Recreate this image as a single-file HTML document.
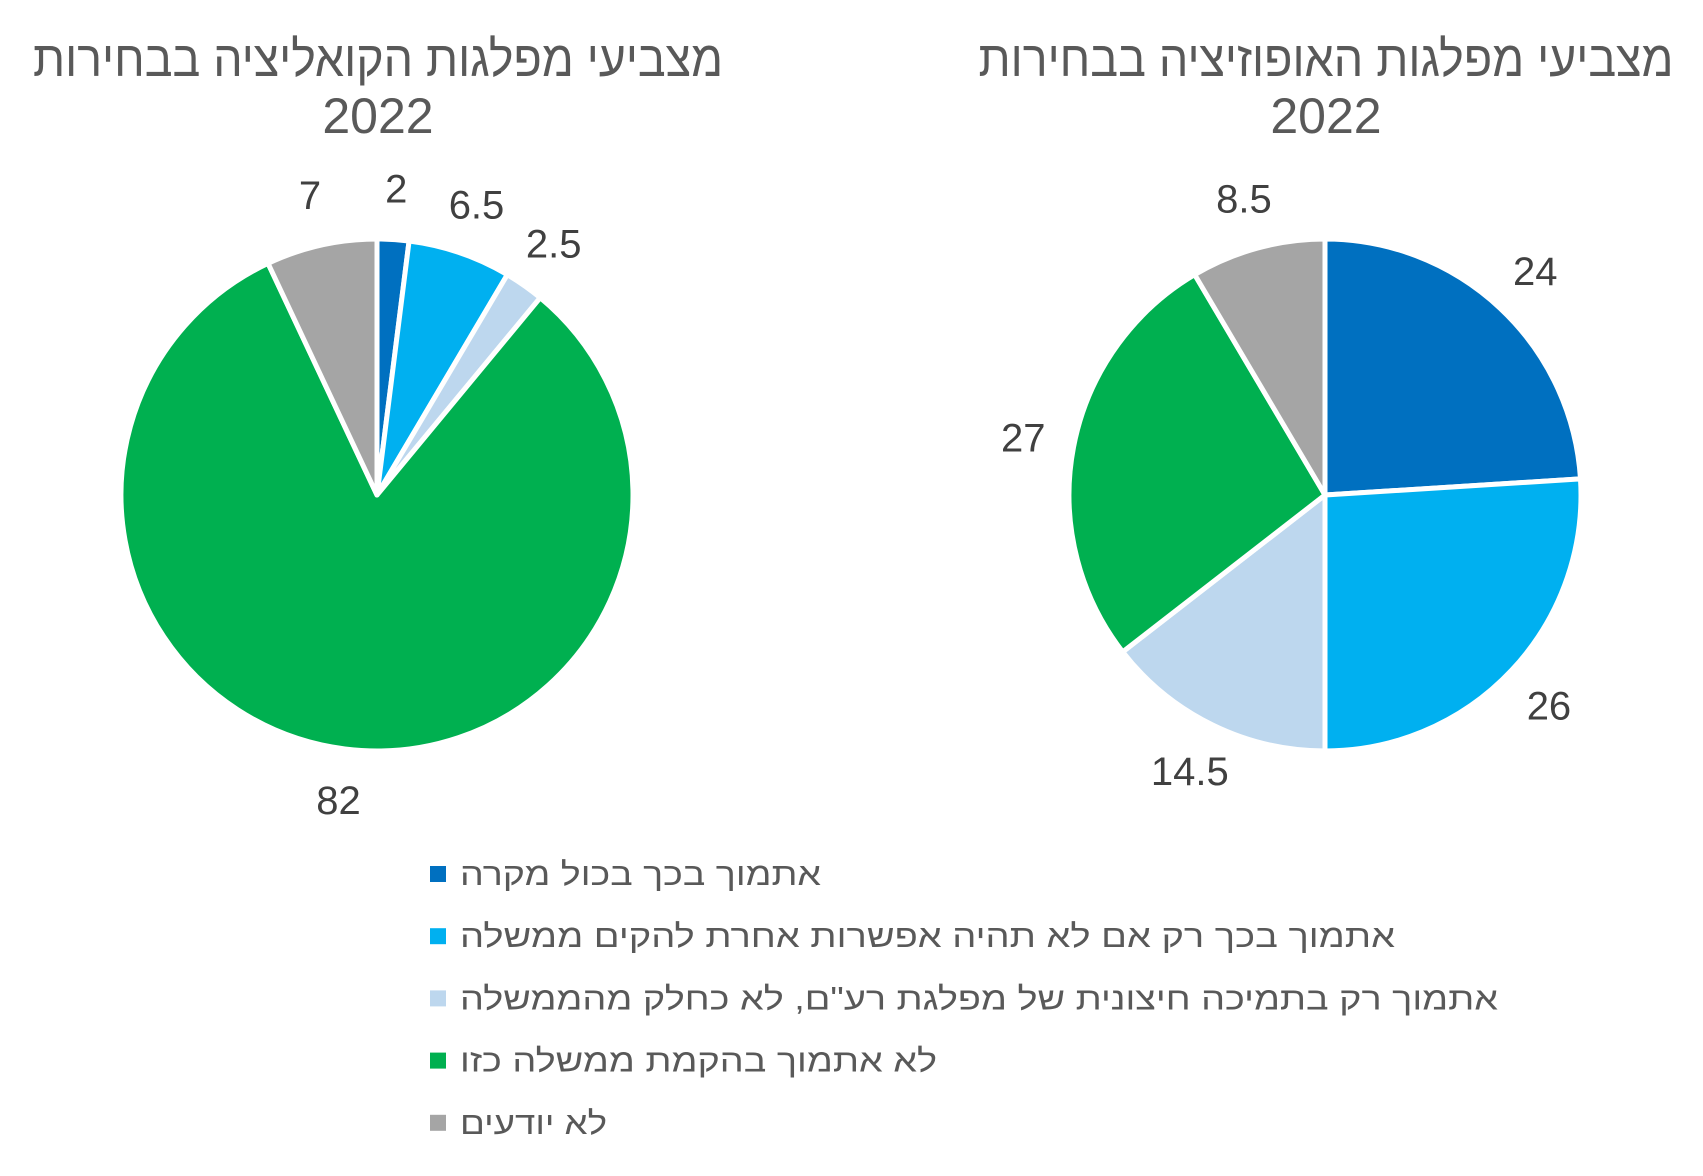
<!DOCTYPE html>
<html><head><meta charset="utf-8">
<style>
html,body{margin:0;padding:0;background:#fff;}
svg{display:block;font-family:"Liberation Sans","DejaVu Sans",sans-serif;}
</style></head>
<body>
<svg id="chart" width="1703" height="1176" viewBox="0 0 1703 1176" xmlns="http://www.w3.org/2000/svg">
  <rect width="1703" height="1176" fill="#fff"/>
  <g fill="#595959" font-size="50" text-anchor="middle">
    <text x="378" y="76" direction="rtl" textLength="690" lengthAdjust="spacingAndGlyphs">מצביעי מפלגות הקואליציה בבחירות</text>
    <text x="378" y="133">2022</text>
  </g>
  <g fill="#595959" font-size="50" text-anchor="middle">
    <text x="1326" y="76" direction="rtl" textLength="695" lengthAdjust="spacingAndGlyphs">מצביעי מפלגות האופוזיציה בבחירות</text>
    <text x="1326" y="133">2022</text>
  </g>
  <g id="pies"></g>
  <g id="legend"></g>
</svg>
<script>
const categories = [
  "אתמוך בכך בכול מקרה",
  "אתמוך בכך רק אם לא תהיה אפשרות אחרת להקים ממשלה",
  "אתמוך רק בתמיכה חיצונית של מפלגת רע\"ם, לא כחלק מהממשלה",
  "לא אתמוך בהקמת ממשלה כזו",
  "לא יודעים"
];
const coalitionValues = [2, 6.5, 2.5, 82, 7];
const oppositionValues = [24, 26, 14.5, 27, 8.5];
const valueLabelsCoalition = ["2", "6.5", "2.5", "82", "7"];
const valueLabelsOpposition = ["24", "26", "14.5", "27", "8.5"];

const colors = ["#0070c0", "#00b0f0", "#bdd7ee", "#00b050", "#a5a5a5"];
const NS = "http://www.w3.org/2000/svg";
const pies = document.getElementById('pies');
const legendG = document.getElementById('legend');
const R = 256;

function drawPie(cx, cy, values, labels, prefix) {
  const total = values.reduce((a, b) => a + b, 0);
  let acc = 0;
  const g = document.createElementNS(NS, 'g');
  
  
  pies.appendChild(g);
  values.forEach((v, i) => {
    const a0 = acc / total * 2 * Math.PI;
    acc += v;
    const a1 = acc / total * 2 * Math.PI;
    const x0 = cx + R * Math.sin(a0), y0 = cy - R * Math.cos(a0);
    const x1 = cx + R * Math.sin(a1), y1 = cy - R * Math.cos(a1);
    const large = (a1 - a0) > Math.PI ? 1 : 0;
    const p = document.createElementNS(NS, 'path');
    p.setAttribute('d', `M${cx},${cy} L${x0},${y0} A${R},${R} 0 ${large} 1 ${x1},${y1} Z`);
    p.setAttribute('fill', colors[i]);
    p.setAttribute('stroke', '#fff');
    p.setAttribute('stroke-width', '5');
    p.setAttribute('stroke-linejoin', 'round');
    
    
    g.appendChild(p);
    const am = (a0 + a1) / 2;
    const lr = R * 1.2;
    const t = document.createElementNS(NS, 'text');
    t.setAttribute('x', cx + lr * Math.sin(am));
    t.setAttribute('y', cy - lr * Math.cos(am) + 14);
    t.setAttribute('text-anchor', 'middle');
    t.setAttribute('font-size', '40');
    t.setAttribute('fill', '#404040');
    
    
    t.textContent = labels[i];
    g.appendChild(t);
  });
}
drawPie(377, 495, coalitionValues, valueLabelsCoalition, 'coalition');
drawPie(1325, 495, oppositionValues, valueLabelsOpposition, 'opposition');

const legendWidths = [361, 935, 1038, 477, 147];
categories.forEach((c, i) => {
  const y = 874 + i * 62.2;
  const r = document.createElementNS(NS, 'rect');
  r.setAttribute('x', 430);
  r.setAttribute('y', y - 8);
  r.setAttribute('width', 16);
  r.setAttribute('height', 16);
  r.setAttribute('fill', colors[i]);
  
  
  legendG.appendChild(r);
  const t = document.createElementNS(NS, 'text');
  t.setAttribute('x', 460 + legendWidths[i]);
  t.setAttribute('y', y + 11);
  t.setAttribute('text-anchor', 'start');
  t.setAttribute('direction', 'rtl');
  t.setAttribute('font-size', '32');
  t.setAttribute('fill', '#595959');
  t.setAttribute('textLength', legendWidths[i]);
  t.setAttribute('lengthAdjust', 'spacingAndGlyphs');
  
  
  t.textContent = c;
  legendG.appendChild(t);
});
</script>
</body></html>
